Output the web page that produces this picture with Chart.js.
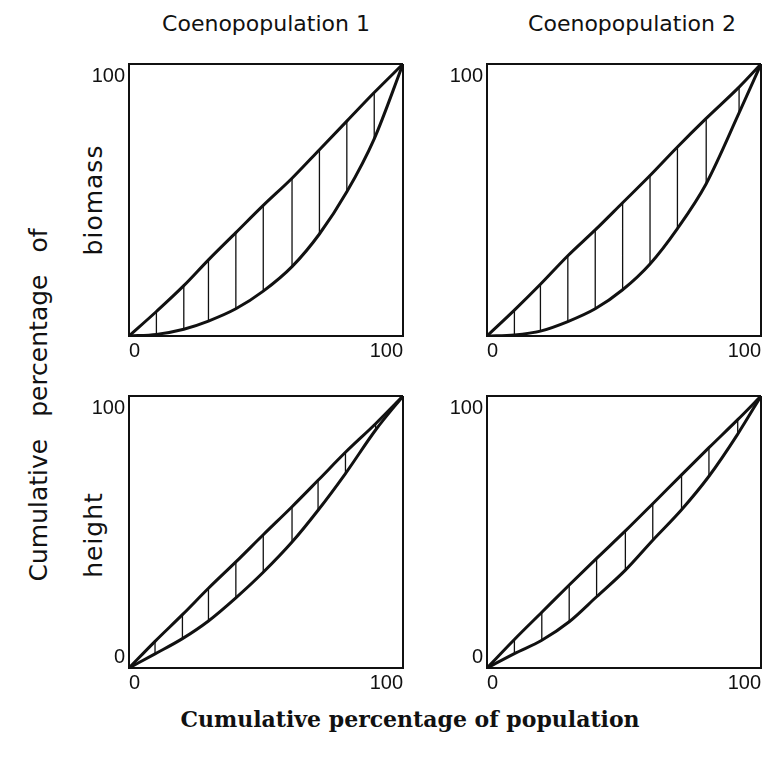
<!DOCTYPE html>
<html>
<head>
<meta charset="utf-8">
<script src="https://cdn.jsdelivr.net/npm/chart.js"></script>
<style>
    body { margin: 0; background: #fff; }
    #wrap { position: relative; width: 767px; height: 757px; color: #111; font-family: "DejaVu Sans", sans-serif; }
    #wrap canvas { position: absolute; }
    .lbl { position: absolute; white-space: nowrap; transform: translate(-50%, -50%); }
    .rot { transform: translate(-50%, -50%) rotate(-90deg); }
    .title { font-size: 22px; }
    .ylab { font-size: 25px; word-spacing: 14px; }
    .side { font-size: 25px; letter-spacing: 1px; }
    .xlab { font-family: "DejaVu Serif", serif; font-weight: bold; font-size: 22px; }
</style>
</head>
<body>
<div id="wrap">
    <div class="lbl title" style="left:266px; top:23px;">Coenopopulation 1</div>
    <div class="lbl title" style="left:632px; top:23px;">Coenopopulation 2</div>
    <div class="lbl ylab rot" style="left:38px; top:405px;">Cumulative percentage of</div>
    <div class="lbl side rot" style="left:93px; top:200px;">biomass</div>
    <div class="lbl side rot" style="left:93px; top:535px;">height</div>
    <div class="lbl xlab" style="left:410px; top:719px;">Cumulative percentage of population</div>
    <canvas id="c1"></canvas>
    <canvas id="c2"></canvas>
    <canvas id="c3"></canvas>
    <canvas id="c4"></canvas>
</div>
<script>
// axis tick labels (both axes run 0..100 %)
const axisTicks = [0, 100];

// Coenopopulation 1 - biomass: hatch positions, upper curve, Lorenz curve
const bio1X = [10, 20, 29, 39, 49, 59.5, 69.5, 79.5, 89.5];
const bio1Upper = [9, 18.5, 28, 38, 48, 58, 68.5, 79, 89.5];
const bio1Lower = [0.6, 2.5, 5.5, 10, 16.5, 25.5, 37.5, 53, 72.5];

// Coenopopulation 2 - biomass
const bio2X = [10, 19.5, 29.5, 39.5, 49.5, 59.5, 69.5, 80, 92];
const bio2Upper = [9.5, 19, 29.5, 39, 49, 59, 69.5, 80, 91.5];
const bio2Lower = [0.4, 1.8, 5.3, 10, 17, 26.5, 39.5, 56, 82];

// Coenopopulation 1 - height
const hgt1X = [9.5, 19.5, 29, 39, 49, 59.5, 69, 79, 90];
const hgt1Upper = [9.8, 19.6, 29.3, 39, 49, 59.3, 69, 79.3, 89.8];
const hgt1Lower = [5.2, 10.8, 17.3, 25.8, 35.2, 46.3, 58, 71.5, 87.5];

// Coenopopulation 2 - height
const hgt2X = [10, 20, 30, 40, 50.5, 60.5, 71, 81, 91.5];
const hgt2Upper = [10.5, 20.5, 30.5, 40.3, 50.4, 60.4, 71, 81, 91.3];
const hgt2Lower = [5.3, 10.2, 17, 26.2, 36, 47, 58.2, 70.5, 86];

const ink = '#111';
const tickFont = { family: '"Liberation Sans", sans-serif', size: 20 };

// where each plot box sits on the page
const panels = [
    { id: 'c1', left: 129, top: 64, xs: bio1X, upper: bio1Upper, lower: bio1Lower, yShown: [100] },
    { id: 'c2', left: 487, top: 64, xs: bio2X, upper: bio2Upper, lower: bio2Lower, yShown: [100] },
    { id: 'c3', left: 129, top: 396, xs: hgt1X, upper: hgt1Upper, lower: hgt1Lower, yShown: [0, 100] },
    { id: 'c4', left: 487, top: 396, xs: hgt2X, upper: hgt2Upper, lower: hgt2Lower, yShown: [0, 100] }
];
const boxW = 274, boxH = 272;
const padL = 45, padT = 12, padR = 6, axisH = 32;

// curve through (0,0) ... (100,100)
function curvePoints(xs, ys) {
    return [{ x: 0, y: 0 }, ...xs.map((x, i) => ({ x: x, y: ys[i] })), { x: 100, y: 100 }];
}

// vertical hatch strokes, separated by gaps
function hatchPoints(xs, lower, upper) {
    return xs.flatMap((x, i) => [{ x: x, y: lower[i] }, { x: x, y: upper[i] }, { x: x, y: null }]);
}

// y tick labels sit inside the box corners like in the print
const yCornerLabels = {
    id: 'yCornerLabels',
    afterDraw(chart, args, opts) {
        const { ctx, chartArea } = chart;
        const y = chart.scales.y;
        ctx.save();
        ctx.font = tickFont.size + 'px ' + tickFont.family;
        ctx.fillStyle = ink;
        ctx.textAlign = 'right';
        opts.values.forEach(v => {
            const py = y.getPixelForValue(v);
            ctx.textBaseline = v === 100 ? 'top' : 'bottom';
            ctx.fillText(String(v), chartArea.left - 4, v === 100 ? py + 2 : py - 1);
        });
        ctx.restore();
    }
};

panels.forEach(p => {
    const canvas = document.getElementById(p.id);
    canvas.width = boxW + padL + padR;
    canvas.height = boxH + padT + axisH;
    canvas.style.left = (p.left - padL) + 'px';
    canvas.style.top = (p.top - padT) + 'px';

    new Chart(canvas.getContext('2d'), {
        type: 'line',
        data: {
            datasets: [
                {
                    data: curvePoints(p.xs, p.upper),
                    borderColor: ink,
                    borderWidth: 3,
                    pointRadius: 0,
                    cubicInterpolationMode: 'monotone'
                },
                {
                    data: curvePoints(p.xs, p.lower),
                    borderColor: ink,
                    borderWidth: 3,
                    pointRadius: 0,
                    cubicInterpolationMode: 'monotone'
                },
                {
                    data: hatchPoints(p.xs, p.lower, p.upper),
                    borderColor: ink,
                    borderWidth: 1.3,
                    pointRadius: 0,
                    spanGaps: false
                }
            ]
        },
        options: {
            responsive: false,
            animation: false,
            layout: { padding: { left: padL, top: padT, right: padR, bottom: 0 } },
            plugins: {
                legend: { display: false },
                tooltip: { enabled: false },
                yCornerLabels: { values: p.yShown }
            },
            scales: {
                x: {
                    type: 'linear',
                    min: axisTicks[0],
                    max: axisTicks[1],
                    afterBuildTicks: s => { s.ticks = axisTicks.map(v => ({ value: v })); },
                    afterFit: s => { s.height = axisH; },
                    ticks: { align: 'inner', color: ink, font: tickFont, padding: 3, maxRotation: 0 },
                    grid: { color: ink, lineWidth: 2, drawTicks: false },
                    border: { color: ink, width: 2 }
                },
                y: {
                    type: 'linear',
                    min: axisTicks[0],
                    max: axisTicks[1],
                    afterBuildTicks: s => { s.ticks = axisTicks.map(v => ({ value: v })); },
                    afterFit: s => { s.width = 0; },
                    ticks: { display: false },
                    grid: { color: ink, lineWidth: 2, drawTicks: false },
                    border: { color: ink, width: 2 }
                }
            }
        },
        plugins: [yCornerLabels]
    });
});
</script>
</body>
</html>
